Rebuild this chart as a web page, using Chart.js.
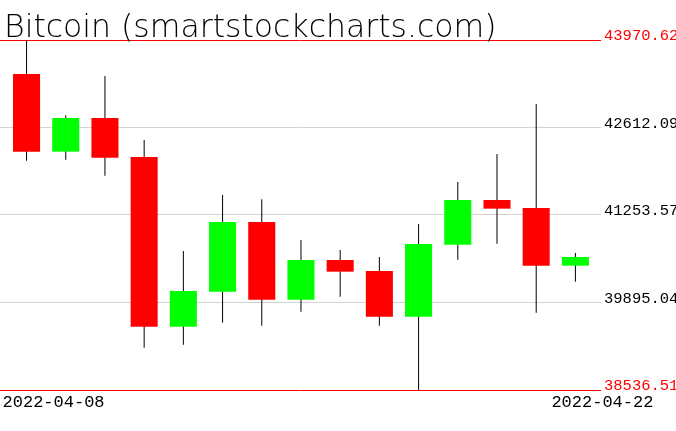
<!DOCTYPE html>
<html>
<head>
<meta charset="utf-8">
<script src="https://cdn.jsdelivr.net/npm/chart.js@4.4.1/dist/chart.umd.min.js"></script>
<style>
html,body{margin:0;padding:0;background:#fff;}
#wrap{width:676px;height:431px;}
canvas{display:block;}
</style>
</head>
<body>
<div id="wrap"><canvas id="c" width="676" height="431"></canvas></div>
<script>
const titleText = 'Bitcoin (smartstockcharts.com)';
const dates = ['2022-04-08','2022-04-09','2022-04-10','2022-04-11','2022-04-12','2022-04-13','2022-04-14','2022-04-15','2022-04-16','2022-04-17','2022-04-18','2022-04-19','2022-04-20','2022-04-21','2022-04-22'];
const opens  = [43442.7, 42236.9, 42759.6, 42154.1, 39519.8, 40063.2, 41144.9, 39939.0, 40554.9, 40384.1, 39675.0, 40792.9, 41486.4, 41362.2, 40466.8];
const highs  = [43970.6, 42801.0, 43411.7, 42418.0, 40694.6, 41564.1, 41496.8, 40865.4, 40710.1, 40601.5, 41113.8, 41765.9, 42200.6, 42976.9, 40663.6];
const lows   = [42097.1, 42112.6, 41864.2, 39193.8, 39240.2, 39581.9, 39535.3, 39752.6, 39985.5, 39535.3, 38536.6, 40560.1, 40808.8, 39737.1, 40218.5];
const closes = [42236.9, 42759.6, 42143.6, 39519.8, 40073.6, 41144.9, 39939.0, 40554.9, 40373.7, 39675.0, 40803.3, 41486.4, 41351.9, 40466.8, 40601.5];
const yTickValues = [38536.51, 39895.04, 41253.57, 42612.09, 43970.62];
const yTickLabels = ['38536.51', '39895.04', '41253.57', '42612.09', '43970.62'];
const xTickIndices = [0, 14];

const idx = dates.map((d, i) => i);
const bodyData = idx.map(i => ({x: i, y: [opens[i], closes[i]]}));
const wickData = idx.map(i => ({x: i, y: [lows[i], highs[i]]}));
const bodyColors = idx.map(i => closes[i] >= opens[i] ? '#00ff00' : '#ff0000');

const titlePlugin = {
  id: 'titleText',
  afterDraw(chart) {
    const c = chart.ctx;
    c.save();
    c.font = '200 31.5px "DejaVu Sans"';
    c.fillStyle = '#000';
    c.textAlign = 'left';
    c.textBaseline = 'alphabetic';
    c.fillText(titleText, 4, 37);
    c.restore();
  }
};

const isEdge = i => i === 0 || i === yTickValues.length - 1;

new Chart(document.getElementById('c'), {
  type: 'bar',
  data: {
    datasets: [
      {label: 'body', data: bodyData, backgroundColor: bodyColors, borderWidth: 0,
       barPercentage: 0.69, categoryPercentage: 1, grouped: false, inflateAmount: 0, order: 0},
      {label: 'wick', data: wickData, backgroundColor: '#000000', borderWidth: 0,
       barThickness: 1, grouped: false, inflateAmount: 0, order: 1}
    ]
  },
  options: {
    responsive: false,
    animation: false,
    devicePixelRatio: 1,
    layout: {padding: {top: 40, left: 0, right: 0, bottom: 0}},
    plugins: {legend: {display: false}, tooltip: {enabled: false}, title: {display: false}},
    scales: {
      x: {
        type: 'linear', offset: false, min: -0.677, max: 14.653,
        grid: {display: false}, border: {display: false},
        afterBuildTicks: s => { s.ticks = xTickIndices.map(v => ({value: v})); },
        afterFit: s => { s.height = 41; s.paddingLeft = 0; s.paddingRight = 0; },
        ticks: {
          callback: v => dates[v],
          font: {family: 'Liberation Mono', size: 17},
          color: '#000000', padding: -6, labelOffset: 27, maxRotation: 0, autoSkip: false
        }
      },
      y: {
        position: 'right', min: 38536.51, max: 43970.62, beginAtZero: false, z: 1,
        border: {display: false},
        grid: {color: ctx => isEdge(ctx.index) ? '#ff0000' : '#d3d3d3', drawTicks: false, lineWidth: 1},
        afterBuildTicks: s => { s.ticks = yTickValues.map(v => ({value: v})); },
        afterFit: s => { s.width = 75; s.paddingTop = 0; s.paddingBottom = 0; },
        ticks: {
          callback: (v, i) => yTickLabels[i],
          color: ctx => isEdge(ctx.index) ? '#ff0000' : '#000000',
          font: {family: 'Liberation Mono', size: 15.5},
          padding: 3, labelOffset: -4, autoSkip: false
        }
      }
    }
  },
  plugins: [titlePlugin]
});
</script>
</body>
</html>
